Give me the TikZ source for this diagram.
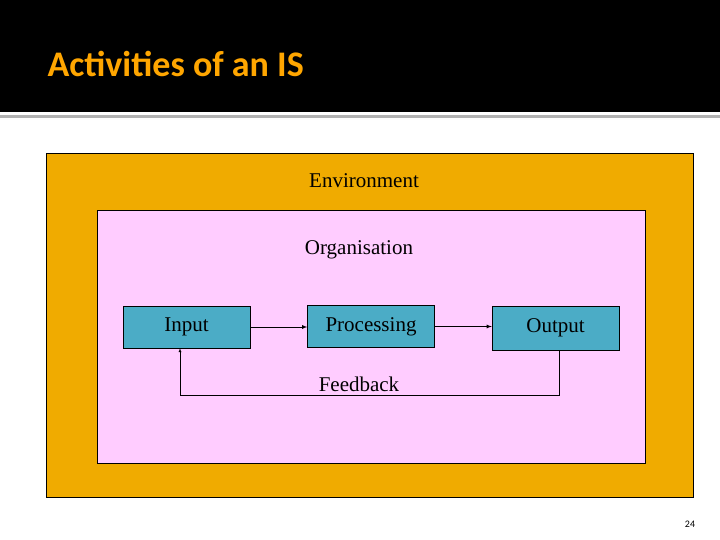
\documentclass[tikz,border=0pt]{standalone}
\usepackage{fontspec}
\setmainfont{Liberation Serif}
\newfontfamily\titlefont{Carlito}
\begin{document}
\begin{tikzpicture}[x=1pt,y=-1pt,
  bx/.style={draw=black,fill=cyan!55!blue!45!white,minimum width=127pt,minimum height=42pt,font=\fontsize{21}{24}\selectfont,inner sep=0},
  lbl/.style={font=\fontsize{21}{24}\selectfont}]
\useasboundingbox (0,0) rectangle (720,540);
\fill[white] (0,0) rectangle (720,540);
\fill[black] (0,0) rectangle (720,112);
\fill[gray!60] (0,115) rectangle (720,118);
\node[anchor=base west,text=orange!70!yellow,font=\titlefont\bfseries\fontsize{36}{40}\selectfont] (t) at (44,77) {Activities of an IS};
\draw[fill={rgb,255:red,240;green,171;blue,0}] (46,153) rectangle (693,497);
\draw[fill={rgb,255:red,255;green,204;blue,255}] (97,210) rectangle (645,463);
\node[lbl] (env) at (364,181) {Environment};
\node[lbl] (org) at (359,250) {Organisation};
\tikzset{bxf/.style={bx,fill={rgb,255:red,75;green,172;blue,198}}}
\node[bxf] (in) at (186.5,327) {Input};
\node[bxf] (pr) at (371,326.5) {\raisebox{3pt}{Processing}};
\node[bxf,minimum height=44pt] (out) at (555.5,328) {Output};
\draw[-latex,thick] (in) -- (pr.west|-in);
\draw[-latex,thick] (pr) -- (out.west|-pr);
\coordinate (a) at (559,395);
\coordinate (b) at (180,395);
\draw[-latex] (out.south-|a) -- (a) -- (b) -- (in.south-|b);
\node[lbl] (fb) at (359,384) {Feedback};
\node[font=\titlefont\fontsize{10}{12}\selectfont] (pg) at (690,524) {24};
\end{tikzpicture}
\end{document}
